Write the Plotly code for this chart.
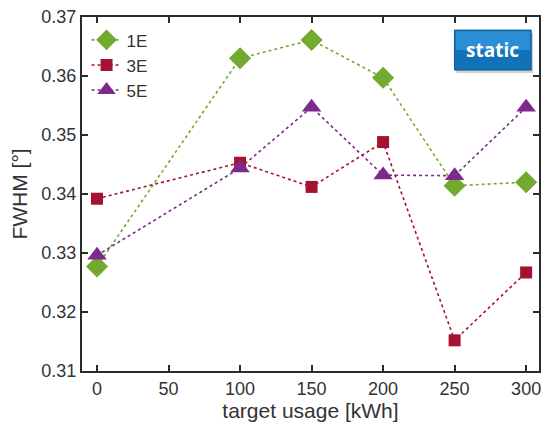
import plotly.graph_objects as go

# target usage in kWh
usage = [0, 100, 150, 200, 250, 300]

# FWHM in degrees per configuration
fwhm_1e = [0.3277, 0.3630, 0.3661, 0.3597, 0.3414, 0.3420]
fwhm_3e = [0.3392, 0.3453, 0.3412, 0.3488, 0.3152, 0.3267]
fwhm_5e = [0.3296, 0.3444, 0.3547, 0.3432, 0.3431, 0.3547]

x_ticks = [0, 50, 100, 150, 200, 250, 300]
y_ticks = [0.31, 0.32, 0.33, 0.34, 0.35, 0.36, 0.37]

series = [
    ("1E", fwhm_1e, "#72a92f", "diamond", 17),
    ("3E", fwhm_3e, "#a51232", "square", 12),
    ("5E", fwhm_5e, "#7d2a8c", "triangle-up", 17),
]

FONT = "Liberation Sans, Arial, sans-serif"

fig = go.Figure()
for name, vals, color, symbol, size in series:
    fig.add_trace(go.Scatter(
        x=usage, y=vals, name=name, mode="lines+markers",
        line=dict(color=color, width=1.6, dash="dot"),
        marker=dict(symbol=symbol, size=size, color=color,
                    line=dict(width=0)),
    ))

axis_common = dict(
    showgrid=False, zeroline=False, showline=True, linecolor="#2b2b2b",
    linewidth=2, mirror="ticks", ticks="inside", ticklen=6, tickwidth=1.5,
    tickcolor="#2b2b2b",
    tickfont=dict(family=FONT, size=18, color="#333333"),
)

# "static" badge: blue box with a lighter upper bevel and a soft shadow
badge = dict(x0=0.815, x1=0.983, y0=0.850, y1=0.963)
shapes = [
    dict(type="rect", xref="paper", yref="paper",
         x0=badge["x0"] + 0.004, x1=badge["x1"] + 0.004,
         y0=badge["y0"] - 0.008, y1=badge["y1"] - 0.008,
         fillcolor="rgba(0,0,0,0.18)", line=dict(width=0), layer="above"),
    dict(type="rect", xref="paper", yref="paper", **badge,
         fillcolor="#1272b8", line=dict(color="#0e5a93", width=1),
         layer="above"),
    dict(type="rect", xref="paper", yref="paper",
         x0=badge["x0"] + 0.003, x1=badge["x1"] - 0.003,
         y0=(badge["y0"] + badge["y1"]) / 2, y1=badge["y1"] - 0.004,
         fillcolor="#2a8fd6", line=dict(width=0), layer="above"),
]

fig.update_layout(
    width=544, height=428,
    margin=dict(l=82, r=3, t=17, b=57),
    paper_bgcolor="white", plot_bgcolor="white",
    xaxis=dict(range=[-10.5, 309], tickvals=x_ticks,
               title=dict(text="target usage [kWh]", standoff=2,
                          font=dict(family=FONT, size=21, color="#333333")),
               **axis_common),
    yaxis=dict(range=[0.31, 0.37], tickvals=y_ticks, tickformat=".2f",
               title=dict(text="FWHM [°]", standoff=8,
                          font=dict(family=FONT, size=21, color="#333333")),
               **axis_common),
    legend=dict(x=0.01, y=0.985, xanchor="left", yanchor="top",
                bgcolor="rgba(0,0,0,0)", tracegroupgap=0,
                font=dict(family=FONT, size=17, color="#333333"),
                itemwidth=30),
    showlegend=True,
    shapes=shapes,
    annotations=[dict(
        x=(badge["x0"] + badge["x1"]) / 2, y=(badge["y0"] + badge["y1"]) / 2,
        xref="paper", yref="paper", xanchor="center", yanchor="middle",
        text="<b>static</b>", showarrow=False,
        font=dict(family="Open Sans, sans-serif", size=19, color="white"),
    )],
)

fig.write_html("out.html")
